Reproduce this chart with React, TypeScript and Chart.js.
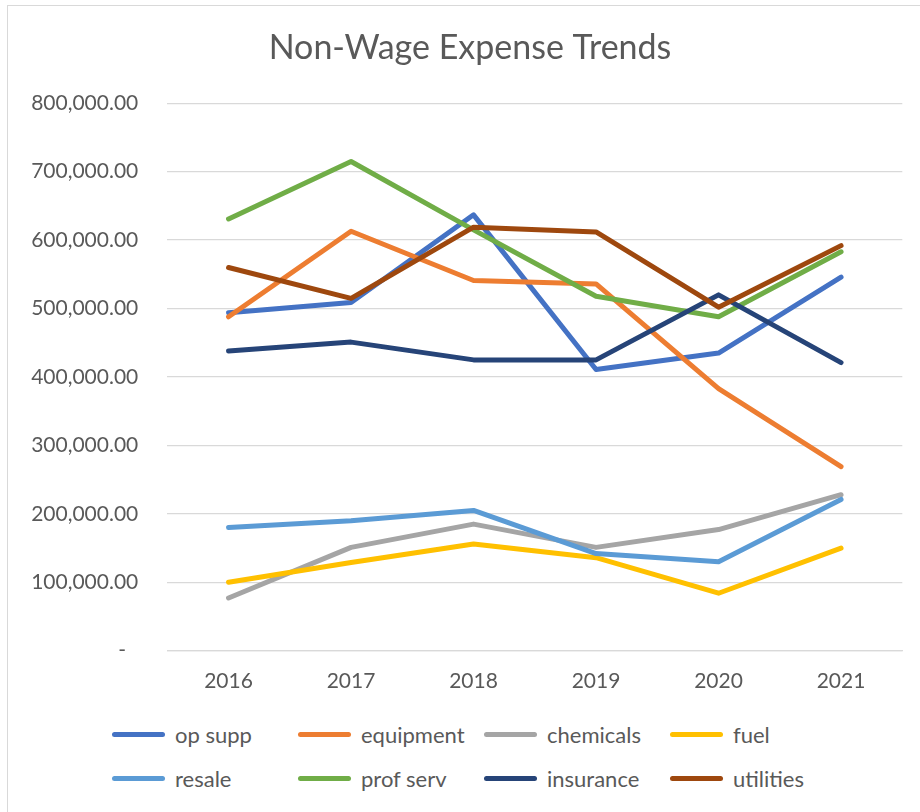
import React, { useEffect, useRef } from "react";
import { Chart, registerables } from "chart.js";

Chart.register(...registerables);

const years = ["2016", "2017", "2018", "2019", "2020", "2021"];

const opSupp = [494000, 509000, 637000, 411000, 435000, 546000];
const equipment = [488000, 613000, 541000, 536000, 383000, 269000];
const chemicals = [77000, 151000, 185000, 151000, 177000, 228000];
const fuel = [100000, 129000, 156000, 136000, 84000, 150000];
const resale = [180000, 190000, 205000, 142000, 130000, 221000];
const profServ = [631000, 715000, 615000, 518000, 488000, 583000];
const insurance = [438000, 451000, 425000, 425000, 520000, 421000];
const utilities = [560000, 515000, 619000, 612000, 502000, 592000];

const seriesNames = ["op supp", "equipment", "chemicals", "fuel", "resale", "prof serv", "insurance", "utilities"];
const seriesColors = ["#4472C4", "#ED7D31", "#A5A5A5", "#FFC000", "#5B9BD5", "#70AD47", "#264478", "#9E480E"];
const seriesValues = [opSupp, equipment, chemicals, fuel, resale, profServ, insurance, utilities];

const yMin = 0;
const yMax = 800000;
const yStep = 100000;

const FONT = "Lato, 'Open Sans', sans-serif";
const TEXT = "#595959";
const GRID = "#D9D9D9";

function fmt(v: number): string {
  if (v === 0) return "-\u2007";
  return v.toLocaleString("en-US", { minimumFractionDigits: 2, maximumFractionDigits: 2 });
}

export default function App() {
  const ref = useRef<HTMLCanvasElement | null>(null);

  useEffect(() => {
    if (!ref.current) return;
    const chart = new Chart(ref.current, {
      type: "line",
      data: {
        labels: years,
        datasets: seriesNames.map((name, i) => ({
          label: name,
          data: seriesValues[i],
          borderColor: seriesColors[i],
          backgroundColor: seriesColors[i],
          borderWidth: 5,
          pointRadius: 0,
          pointHoverRadius: 0,
          borderCapStyle: "round" as const,
          borderJoinStyle: "round" as const,
          tension: 0,
          fill: false,
          order: seriesNames.length - i,
        })),
      },
      options: {
        animation: false,
        responsive: false,
        devicePixelRatio: 1,
        layout: { padding: 0 },
        plugins: {
          legend: { display: false },
          tooltip: { enabled: false },
          title: {
            display: true,
            text: "Non-Wage Expense Trends",
            color: TEXT,
            font: { family: FONT, size: 34, weight: "normal", lineHeight: 1.2 },
            padding: { top: 27.6, bottom: 34.9 },
          },
        },
        scales: {
          x: {
            offset: true,
            grid: { display: false, drawTicks: false },
            border: { display: true, color: GRID, width: 1.3 },
            ticks: { color: TEXT, font: { family: FONT, size: 21 }, padding: 18, maxRotation: 0 },
            afterFit: (s: any) => {
              s.height = 61.3;
            },
          },
          y: {
            min: yMin,
            max: yMax,
            grid: { color: GRID, lineWidth: 1.3, drawTicks: false },
            border: { display: false },
            ticks: {
              stepSize: yStep,
              color: TEXT,
              font: { family: FONT, size: 21 },
              padding: 29,
              callback: (v: any) => fmt(Number(v)),
            },
            afterFit: (s: any) => {
              s.width = 167.3;
            },
          },
          yRight: {
            position: "right",
            min: yMin,
            max: yMax,
            grid: { display: false, drawTicks: false },
            border: { display: false },
            ticks: { display: false },
            afterFit: (s: any) => {
              s.width = 37.7;
            },
          },
        },
      },
    });
    return () => chart.destroy();
  }, []);

  const colX = [112, 298, 484, 670];
  const rowY = [734, 778];

  return (
    <div style={{ position: "absolute", left: 0, top: 0, width: 920, height: 812, background: "#fff", overflow: "hidden" }}>
      <div
        style={{
          position: "absolute",
          left: 7,
          top: 4.5,
          width: 930,
          height: 830,
          border: "1.3px solid #D9D9D9",
          boxSizing: "border-box",
        }}
      />
      <canvas ref={ref} width={940} height={712} style={{ position: "absolute", left: 0, top: 0, width: 940, height: 712 }} />
      {seriesNames.map((name, i) => {
        const x = colX[i % 4];
        const y = rowY[Math.floor(i / 4)];
        return (
          <div key={name} style={{ position: "absolute", left: x, top: y - 15, height: 30, display: "flex", alignItems: "center" }}>
            <div style={{ width: 53, height: 5, borderRadius: 3, background: seriesColors[i] }} />
            <span style={{ marginLeft: 10, fontFamily: FONT, fontSize: 22, color: TEXT, whiteSpace: "nowrap" }}>{name}</span>
          </div>
        );
      })}
    </div>
  );
}
